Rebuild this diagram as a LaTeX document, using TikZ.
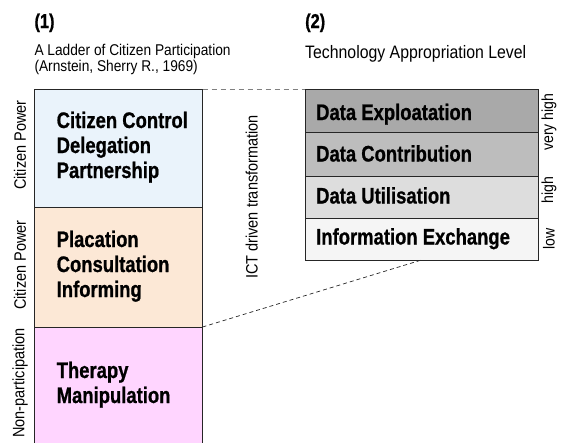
\documentclass[tikz,border=0pt]{standalone}
\usepackage{fontspec}
\setmainfont{Liberation Sans}[FakeStretch=0.88]
\newfontfamily\condfont{Liberation Sans}[FakeStretch=0.82, BoldFeatures={FakeBold=0.8}]
\definecolor{cblue}{HTML}{EAF3FB}
\definecolor{cpeach}{HTML}{FCE8D6}
\definecolor{cpink}{HTML}{FFD5FF}
\definecolor{gone}{HTML}{A9A9A9}
\definecolor{gtwo}{HTML}{BDBDBD}
\definecolor{gthree}{HTML}{DDDDDD}
\definecolor{gfour}{HTML}{F5F5F5}
\begin{document}
\begin{tikzpicture}[x=1pt,y=-1pt,
  box/.style={draw=black!85, line width=0.8pt, rectangle, inner sep=0pt, outer sep=0pt, anchor=north west},
  lbox/.style={box, minimum width=168.2pt},
  rbox/.style={box, minimum width=233pt},
  big/.style={font=\condfont\bfseries\fontsize{22.5}{25}\selectfont, align=left, anchor=base west, inner sep=0pt},
  side/.style={font=\fontsize{16.5}{19}\selectfont, rotate=90, inner sep=0pt},
  lvl/.style={font=\fontsize{16}{19}\selectfont, rotate=90, inner sep=0pt},
  head/.style={font=\condfont\bfseries\fontsize{20}{22}\selectfont, anchor=base west, inner sep=0pt},
  sub/.style={anchor=base west, align=left, inner sep=0pt}]
\useasboundingbox (0,0) rectangle (561,442);
% left ladder
\node[lbox, fill=cblue, minimum height=118pt] (b1) at (34.3,89) {};
\node[lbox, fill=cpeach, minimum height=120pt] (b2) at (b1.south west) {};
\node[lbox, fill=cpink, minimum height=120pt] (b3) at (b2.south west) {};
% right levels
\node[rbox, fill=gone, minimum height=43.5pt] (r1) at (305,89) {};
\node[rbox, fill=gtwo, minimum height=43.5pt] (r2) at (r1.south west) {};
\node[rbox, fill=gthree, minimum height=42pt] (r3) at (r2.south west) {};
\node[rbox, fill=gfour, minimum height=42pt] (r4) at (r3.south west) {};
% connectors
\draw[black!50, dash pattern=on 5pt off 4pt, line width=0.9pt] (b1.north east) -- (r1.north west);
\draw[black!85, dash pattern=on 4pt off 3pt, line width=0.7pt] (b2.south east) -- (r4.south);
% box texts (base = baseline of last line)
\node[big] (t1) at (56.5,178) {Citizen Control\\Delegation\\Partnership};
\node[big] (t2) at (56.5,297) {Placation\\Consultation\\Informing};
\node[big] (t3) at (56.5,403) {Therapy\\Manipulation};
\node[big] (e1) at (316,120) {Data Exploatation};
\node[big] (e2) at (316,161.5) {Data Contribution};
\node[big] (e3) at (316,203.5) {Data Utilisation};
\node[big] (e4) at (316,244.5) {Information Exchange};
% side labels
\node[side] (p1) at (20,145) {Citizen Power};
\node[side] (p2) at (20,265) {Citizen Power};
\node[side] (p3) at (20,383) {Non-participation};
\node[side] (ict) at (251.7,197) {ICT driven transformation};
\node[lvl] (v1) at (549,122) {very high};
\node[lvl] (v2) at (549,190) {high};
\node[lvl] (v3) at (549,239) {low};
% headings
\node[head] (h1) at (34.3,28) {(1)};
\node[head] (h2) at (305,28) {(2)};
\node[sub, font=\fontsize{15.6}{16.7}\selectfont] (s1) at (34.3,71.7) {A Ladder of Citizen Participation\\(Arnstein, Sherry R., 1969)};
\node[sub, font=\fontsize{18}{20}\selectfont] (s2) at (305,58) {Technology Appropriation Level};
\end{tikzpicture}
\end{document}
